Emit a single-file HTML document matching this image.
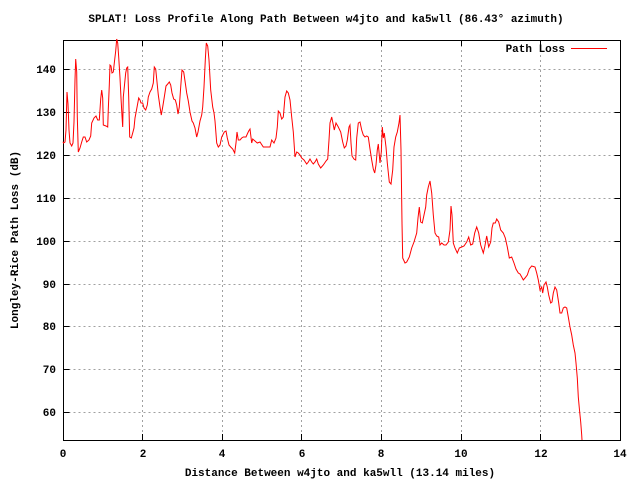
<!DOCTYPE html>
<html><head><meta charset="utf-8"><style>
body{margin:0;background:#fff}
svg{display:block}
text{font-family:"Liberation Mono","DejaVu Sans Mono",monospace;font-size:11px;font-weight:bold;fill:#000}
</style></head><body>
<svg width="640" height="480" viewBox="0 0 640 480" xmlns="http://www.w3.org/2000/svg">
<rect width="640" height="480" fill="#fff"/>
<g stroke="#a0a0a0" stroke-width="1" stroke-dasharray="2,3" fill="none">
<path d="M63.5 412.5H620M63.5 369.5H620M63.5 326.5H620M63.5 284.5H620M63.5 241.5H620M63.5 198.5H620M63.5 155.5H620M63.5 112.5H620M63.5 69.5H620"/>
<path d="M142.5 40V440M222.5 40V440M301.5 40V440M381.5 40V440M461.5 40V440M540.5 40V440"/>
</g>
<g stroke="#000" stroke-width="1" fill="none">
<rect x="63.5" y="40.5" width="557" height="400"/>
<path d="M63.5 412.5h6M63.5 369.5h6M63.5 326.5h6M63.5 284.5h6M63.5 241.5h6M63.5 198.5h6M63.5 155.5h6M63.5 112.5h6M63.5 69.5h6"/>
<path d="M620.5 412.5h-6M620.5 369.5h-6M620.5 326.5h-6M620.5 284.5h-6M620.5 241.5h-6M620.5 198.5h-6M620.5 155.5h-6M620.5 112.5h-6M620.5 69.5h-6"/>
<path d="M142.5 440v-6M222.5 440v-6M301.5 440v-6M381.5 440v-6M461.5 440v-6M540.5 440v-6"/>
<path d="M142.5 40v6M222.5 40v6M301.5 40v6M381.5 40v6M461.5 40v6M540.5 40v6"/>
</g>
<g text-anchor="end">
<text x="56" y="416">60</text><text x="56" y="373">70</text><text x="56" y="330">80</text><text x="56" y="288">90</text><text x="56" y="245">100</text><text x="56" y="202">110</text><text x="56" y="159">120</text><text x="56" y="116">130</text><text x="56" y="73">140</text>
</g>
<g text-anchor="middle">
<text x="63" y="457">0</text><text x="143" y="457">2</text><text x="222" y="457">4</text><text x="302" y="457">6</text><text x="381" y="457">8</text><text x="461" y="457">10</text><text x="541" y="457">12</text><text x="620" y="457">14</text>
<text x="326" y="22">SPLAT! Loss Profile Along Path Between w4jto and ka5wll (86.43° azimuth)</text>
<text x="340" y="476">Distance Between w4jto and ka5wll (13.14 miles)</text>
<text transform="translate(18,240) rotate(-90)">Longley-Rice Path Loss (dB)</text>
</g>
<text x="565" y="52" text-anchor="end">Path Loss</text>
<path d="M571 48.5H607" stroke="#f00" stroke-width="1"/>
<polyline fill="none" stroke="#f00" stroke-width="1" points="63,141.7 63.5,143 65,142 66,130 67,92 68,104 69,130 70,143 71.7,146 73,143 74,122 75,80 75.7,59 76.7,72 77.3,117 78.3,152 80,148 81.7,142 83.3,137 85,137 86.7,142 89,140 90.7,136 91.7,123 94,118 96,116 97.7,120 99.3,120 100.7,99 101.7,90 102.7,98 103.3,125 106,126 107.7,127 108.3,109 109.3,85 110,65 111,66 112,73 113.3,72 114.3,63 115.7,51 116.7,39 117.7,43 118.7,57 120,78 121,98 122,116 122.7,127 123.3,97 124.7,83 125.7,73 126.7,68 127.7,67 128.7,97 129.7,137 131.3,138 132.7,133 134,128 135,118 136.7,109 138.7,98 140,100 141,103 142.7,103 144,108 145.7,110 147.3,105 148.3,97 150,92 151.7,89 153.3,83 154.3,67 155.7,69 157,82 158.3,95 160,107 161.3,115 162.7,107 164.3,97 166,86 167.7,84 169.3,82 170.7,85 172,93 173.7,99 175.3,100 176.7,105 178,114 179.3,107 180.7,87 182,70 183.7,72 185.3,83 186.7,93 188.3,101 190,112 192,121 193.3,123 195,128 196.7,137 198,132 200,121 201.7,115 202.7,107 204,87 205.3,60 206.3,43 207.7,46 209,60 210.7,90 212.7,107 214,113 215,121 216.7,143 218.3,147 220,145 221.7,137 224.3,132 226,131 227.3,138 229,145 230.7,147 232.7,149 234.7,153 236,143 237,132 238.3,140 240,140 241.7,138 243.3,137 246,137 247.3,134 248.7,131 250,129 251.7,143 252.7,139 255,141 257.3,143 260,142 263.3,147 266,147 270,147 271.7,140 274,143 276,138 277.3,127 278.3,111 280,113 281.7,119 283.3,117 285,97 286.7,91 288.3,93 290,100 291.7,117 293.3,132 295,157 296.7,152 298.3,153 300,155 301.7,158 304,160 306.7,164 308.3,162 310,159 311.7,162 313.3,164 315,162 316.7,159 318.3,164 320.7,168 323.3,165 326,161 327.7,159 329,140 330,123 331.7,117 332.7,122 334.3,130 336,123 338.3,127 340.7,132 342.7,142 344.3,148 346,146 347.3,140 349,127 350,125 351,143 352,156 354,159 355.7,160 356.7,138 358.3,123 360,122 361.7,130 363.3,135 365,137 366.7,136 368.3,137 370,149 371.7,160 373.3,169 374.7,173 376,165 377.3,150 378.3,144 380,163 381.3,152 382.3,127 383.3,138 384.3,133 386,147 387.3,163 389.3,182 391,184 392.7,170 394,147 395.7,137 397.3,132 399,123 400,115 401,150 402,223 402.7,258 405,263 406.7,262 409.3,257 411.7,248 414,242 416.7,233 418,218 419.3,207 420.7,222 422.3,223 424,215 425.7,207 426.7,195 428.3,187 430,181 431.7,193 433.3,215 435,233 436.7,236 438.7,237 440,245 441.7,243 444,245 446,245 448.3,242 450,230 451,206 452,215 453.3,243 455,248 457.3,253 459.3,248 461.7,247 464,246 466.7,242 468.7,237 470.7,245 472.7,244 474.7,233 476.7,227 478.7,233 480.7,245 483.3,253 484.7,247 486.7,236 488.7,247 490.7,242 492,228 493.3,223 495.3,223 496.7,219 498.7,222 500.7,230 503.3,233 505.3,238 507.3,247 509.3,258 511.7,257 514,263 516,269 518.3,273 520,274 521.7,277 523.3,280 525,278 527.3,275 529.3,269 531.7,266 535,267 536.7,273 538.3,280 540,290 541.7,287 542.7,293 544,285 546,282 547.3,287 548.7,295 550.7,303 552,302 553.3,293 555,287 556.7,290 558.7,303 560,313 561.7,313 563.3,308 565,307 566.7,308 568.3,317 570,327 571.7,335 573.3,345 575,353 576,363 577.3,378 578.3,397 579.3,408 580.7,422 581.7,435 582,440"/>
</svg>
</body></html>
